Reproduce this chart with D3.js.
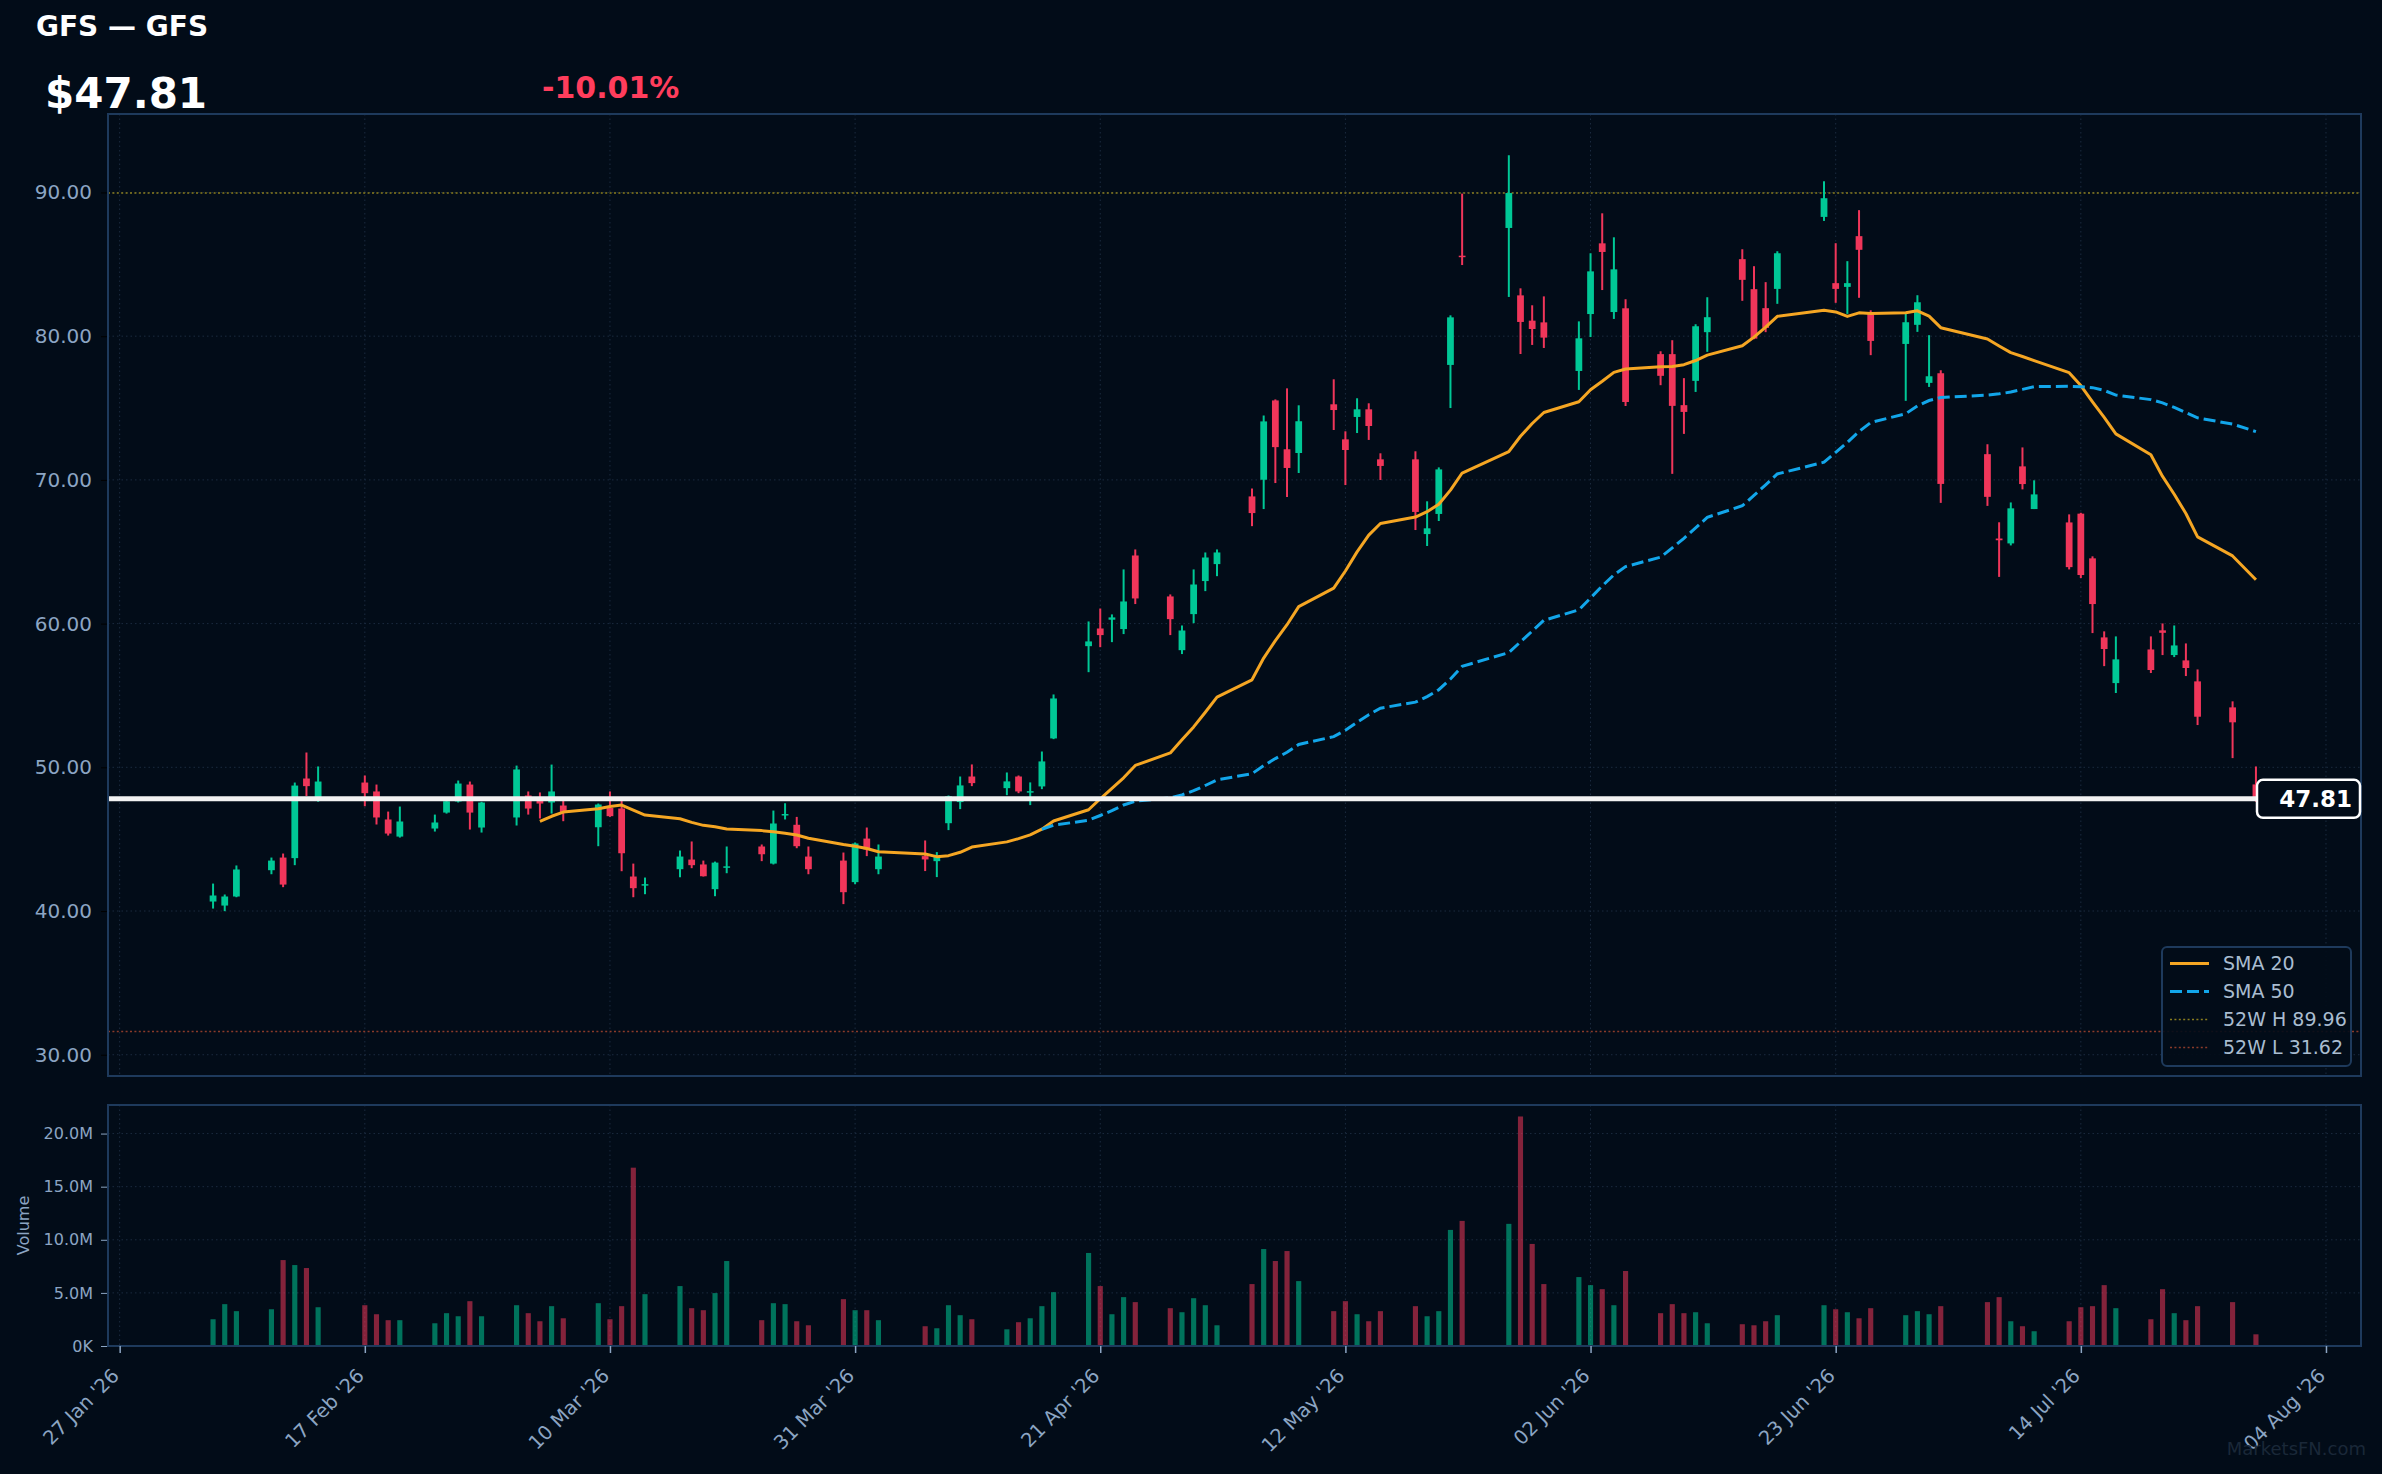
<!DOCTYPE html>
<html>
<head>
<meta charset="utf-8">
<script src="https://cdn.jsdelivr.net/npm/d3@7"></script>
<style>
  html, body { margin: 0; padding: 0; background: #020c18; }
  svg { display: block; font-family: "DejaVu Sans", sans-serif; }
</style>
</head>
<body>
<script>
// ---- data ----
const dates = [
  "2026-02-04","2026-02-05","2026-02-06","2026-02-09","2026-02-10","2026-02-11","2026-02-12","2026-02-13",
  "2026-02-17","2026-02-18","2026-02-19","2026-02-20","2026-02-23","2026-02-24","2026-02-25","2026-02-26","2026-02-27",
  "2026-03-02","2026-03-03","2026-03-04","2026-03-05","2026-03-06","2026-03-09","2026-03-10","2026-03-11","2026-03-12","2026-03-13",
  "2026-03-16","2026-03-17","2026-03-18","2026-03-19","2026-03-20","2026-03-23","2026-03-24","2026-03-25","2026-03-26","2026-03-27",
  "2026-03-30","2026-03-31",
  "2026-04-01","2026-04-02","2026-04-06","2026-04-07","2026-04-08","2026-04-09","2026-04-10","2026-04-13","2026-04-14","2026-04-15",
  "2026-04-16","2026-04-17","2026-04-20","2026-04-21","2026-04-22","2026-04-23","2026-04-24","2026-04-27","2026-04-28","2026-04-29","2026-04-30",
  "2026-05-01","2026-05-04","2026-05-05","2026-05-06","2026-05-07","2026-05-08","2026-05-11","2026-05-12","2026-05-13","2026-05-14",
  "2026-05-15","2026-05-18","2026-05-19","2026-05-20","2026-05-21","2026-05-22","2026-05-26","2026-05-27","2026-05-28","2026-05-29",
  "2026-06-01","2026-06-02","2026-06-03","2026-06-04","2026-06-05","2026-06-08","2026-06-09","2026-06-10","2026-06-11","2026-06-12",
  "2026-06-15","2026-06-16","2026-06-17","2026-06-18","2026-06-22","2026-06-23","2026-06-24","2026-06-25","2026-06-26","2026-06-29","2026-06-30",
  "2026-07-01","2026-07-02","2026-07-06","2026-07-07","2026-07-08","2026-07-09","2026-07-10","2026-07-13","2026-07-14","2026-07-15",
  "2026-07-16","2026-07-17","2026-07-20","2026-07-21","2026-07-22","2026-07-23","2026-07-24","2026-07-27","2026-07-29"
];
const opens = [
  40.66,40.38,41.01,42.84,43.72,43.68,49.22,47.90,48.94,48.32,46.37,45.18,45.74,46.85,47.62,48.80,45.81,
  46.51,48.04,47.73,47.55,47.34,45.83,47.18,47.13,42.40,41.83,42.91,43.58,43.24,41.52,43.08,44.49,43.30,46.72,46.00,43.79,43.51,42.01,
  45.04,42.91,43.82,43.47,46.11,47.58,49.36,48.55,49.36,48.32,48.67,52.01,58.43,59.66,60.27,59.62,64.74,61.89,58.15,60.66,62.96,
  64.14,68.85,70.01,75.53,72.13,71.87,75.26,72.82,74.38,74.91,71.43,71.43,66.23,67.63,78.00,85.60,87.53,82.84,81.08,80.96,
  77.58,81.54,86.46,81.68,81.94,78.75,78.75,75.20,76.89,80.28,85.36,83.27,81.95,83.29,88.30,83.69,83.43,86.96,81.62,79.46,80.79,
  76.75,77.42,71.79,65.92,65.58,70.94,67.97,67.04,67.65,64.54,59.04,55.86,58.20,59.53,57.81,57.44,55.98,54.17,48.81
];
const highs = [
  41.91,41.15,43.17,43.72,44.00,48.94,51.03,50.06,49.43,48.80,46.92,47.27,46.71,47.90,49.08,49.01,47.60,
  50.12,48.32,48.25,50.19,47.90,47.48,48.32,47.70,43.30,42.33,44.21,44.84,43.51,43.44,44.49,44.63,46.99,47.50,46.55,44.49,44.07,44.77,
  45.81,44.63,44.91,44.10,48.04,49.36,50.20,49.64,49.43,48.95,51.10,55.07,60.15,61.05,60.64,63.77,65.16,62.03,59.87,63.77,64.95,
  65.16,69.40,74.48,75.60,76.37,75.19,77.00,73.38,75.68,75.33,71.85,71.99,68.51,70.87,81.45,89.92,92.59,83.33,82.15,82.77,
  81.03,85.77,88.55,86.88,82.57,78.95,79.72,77.08,80.83,82.71,86.05,84.87,83.76,85.91,90.78,86.47,85.22,88.77,81.80,81.58,82.85,
  80.07,77.63,72.48,67.05,68.43,72.26,69.97,67.60,67.71,64.68,59.46,59.11,59.11,60.01,59.87,58.62,56.81,54.59,50.06
];
const lows = [
  40.17,39.99,40.96,42.56,41.66,43.19,48.00,47.60,47.29,46.02,45.25,45.11,45.53,46.78,47.55,45.67,45.46,
  45.95,46.71,46.44,46.78,46.25,44.51,46.55,42.77,40.96,41.17,42.35,42.98,42.40,41.03,42.63,43.47,43.24,46.37,44.37,42.56,40.48,41.87,
  43.82,42.56,42.78,42.36,45.63,47.09,48.69,48.06,48.20,47.37,48.48,51.96,56.62,58.36,58.71,59.27,61.36,59.20,57.88,60.03,62.26,
  63.30,66.78,67.97,69.78,68.81,70.48,73.47,69.64,73.26,72.78,69.99,66.51,65.40,67.14,75.00,84.95,82.73,78.76,79.39,79.18,
  76.26,79.94,83.21,81.20,75.14,76.59,70.42,73.20,76.12,78.91,82.46,79.79,80.28,82.25,88.02,82.32,81.55,82.67,78.68,75.50,80.30,
  76.47,68.40,68.19,63.25,65.44,69.34,67.97,63.77,63.17,59.34,57.04,55.17,56.56,57.81,57.67,56.35,52.94,50.64,47.60
];
const closes = [
  41.08,41.01,42.89,43.51,41.84,48.73,48.69,49.01,48.20,46.51,45.39,46.23,46.16,47.64,48.87,46.85,47.55,
  49.85,47.13,47.48,48.32,46.88,47.41,46.60,44.02,41.59,41.87,43.79,43.19,42.42,43.37,43.11,43.95,46.09,46.75,44.51,42.91,41.31,44.70,
  44.28,43.79,43.59,43.82,47.99,48.74,48.90,49.02,48.32,48.34,50.41,54.79,58.76,59.20,60.43,61.54,61.75,60.31,59.52,62.72,64.60,
  64.95,67.69,74.07,72.28,70.83,74.08,74.86,72.08,74.91,73.75,70.97,67.77,66.63,70.73,81.31,85.51,89.96,80.99,80.50,79.90,
  79.85,84.51,85.86,84.65,75.42,77.24,75.15,74.73,80.69,81.32,83.92,79.83,80.58,85.77,89.60,83.29,83.69,86.01,79.67,80.97,82.36,
  77.21,69.72,68.82,65.80,68.02,69.71,68.99,63.93,63.38,61.36,58.23,57.51,56.77,59.36,58.48,56.91,53.52,53.13,47.81
];
// volume in millions of shares
const volumes = [
  2.52,3.94,3.28,3.46,8.09,7.62,7.34,3.65,3.84,2.99,2.43,2.43,2.14,3.09,2.80,4.22,2.80,
  3.84,3.09,2.33,3.75,2.61,4.03,2.52,3.75,16.79,4.88,5.64,3.56,3.37,4.98,8.00,2.43,4.03,3.94,2.33,1.95,4.41,3.37,
  3.37,2.43,1.86,1.67,3.84,2.90,2.52,1.57,2.24,2.61,3.75,5.07,8.76,5.64,2.99,4.60,4.13,3.56,3.18,4.50,3.84,
  1.95,5.83,9.13,8.00,8.94,6.11,3.28,4.22,2.99,2.33,3.28,3.75,2.80,3.28,10.93,11.78,11.50,21.61,9.61,5.83,
  6.49,5.73,5.35,3.84,7.06,3.09,3.94,3.09,3.18,2.14,2.05,1.95,2.33,2.90,3.84,3.46,3.18,2.61,3.56,2.90,3.28,
  2.99,3.75,4.13,4.60,2.33,1.86,1.39,2.33,3.65,3.75,5.73,3.56,2.52,5.35,3.09,2.43,3.75,4.13,1.10
];
const xTickDates = ["2026-01-27","2026-02-17","2026-03-10","2026-03-31","2026-04-21","2026-05-12","2026-06-02","2026-06-23","2026-07-14","2026-08-04"];
const priceTicks = [30, 40, 50, 60, 70, 80, 90];
const volumeTicks = [0, 5, 10, 15, 20];
const high52w = 89.96;
const low52w = 31.62;
const ticker = "GFS";

// ---- layout ----
const W = 2382, H = 1474;
const left = 108, right = 2361;
const pTop = 114, pBottom = 1076;
const vTop = 1105, vBottom = 1346;
const bg = "#020c18";
const up = "#00c896", down = "#f0365a";
const gridColor = "#1b2b3f";
const frameColor = "#1e3a5c";
const labelColor = "#8ca5c3";

const parse = d3.utcParse("%Y-%m-%d");
const data = dates.map((d, i) => ({
  date: parse(d), open: opens[i], high: highs[i], low: lows[i], close: closes[i], vol: volumes[i] * 1e6
}));
const last = data[data.length - 1];
const prev = data[data.length - 2];
const pct = (last.close / prev.close - 1) * 100;

const sma = (n) => data.map((d, i) => i < n - 1 ? null : {
  date: d.date, v: d3.mean(data.slice(i - n + 1, i + 1), e => e.close)
}).filter(Boolean);
const sma20 = sma(20), sma50 = sma(50);

const x = d3.scaleUtc()
  .domain([new Date(Date.UTC(2026, 0, 26)), new Date(Date.UTC(2026, 7, 7))])
  .range([left, right]);
const y = d3.scaleLinear().domain([28.52, 95.46]).range([pBottom, pTop]);
const yv = d3.scaleLinear().domain([0, d3.max(data, d => d.vol) * 1.05]).range([vBottom, vTop]);

const dayW = x(new Date(Date.UTC(2026, 0, 28))) - x(new Date(Date.UTC(2026, 0, 27)));
const bodyW = dayW * 0.58;
const volW = dayW * 0.44;

const svg = d3.select("body").append("svg").attr("width", W).attr("height", H);
svg.append("rect").attr("width", W).attr("height", H).attr("fill", bg);

// header
svg.append("text").attr("x", 36).attr("y", 36).attr("fill", "#fff")
  .attr("font-size", 28).attr("font-weight", "bold").text(`${ticker} — ${ticker}`);
svg.append("text").attr("x", 45).attr("y", 108).attr("fill", "#fff")
  .attr("font-size", 42).attr("font-weight", "bold").text(`$${last.close.toFixed(2)}`);
svg.append("text").attr("x", 542).attr("y", 98).attr("fill", pct < 0 ? "#ff3d5c" : up)
  .attr("font-size", 30).attr("font-weight", "bold").text(`${pct.toFixed(2)}%`);

// ---- price panel ----
const clipP = svg.append("clipPath").attr("id", "clipP");
clipP.append("rect").attr("x", left).attr("y", pTop).attr("width", right - left).attr("height", pBottom - pTop);

const pg = svg.append("g");
const xTicks = xTickDates.map(parse);

pg.selectAll(".hgrid").data(priceTicks).enter().append("line")
  .attr("x1", left).attr("x2", right).attr("y1", d => y(d)).attr("y2", d => y(d))
  .attr("stroke", gridColor).attr("stroke-width", 1).attr("stroke-dasharray", "1.5,3");
pg.selectAll(".vgrid").data(xTicks).enter().append("line")
  .attr("x1", d => x(d)).attr("x2", d => x(d)).attr("y1", pTop).attr("y2", pBottom)
  .attr("stroke", gridColor).attr("stroke-width", 1).attr("stroke-dasharray", "1.5,3");

// 52 week lines
pg.append("line").attr("x1", left).attr("x2", right).attr("y1", y(high52w)).attr("y2", y(high52w))
  .attr("stroke", "#8a7d1e").attr("stroke-width", 1.5).attr("stroke-dasharray", "2,2.4");
pg.append("line").attr("x1", left).attr("x2", right).attr("y1", y(low52w)).attr("y2", y(low52w))
  .attr("stroke", "#8a3b2a").attr("stroke-width", 1.5).attr("stroke-dasharray", "2,2.4");

// candles
const candles = pg.append("g").attr("clip-path", "url(#clipP)").selectAll("g").data(data).enter().append("g");
candles.append("line")
  .attr("x1", d => x(d.date)).attr("x2", d => x(d.date))
  .attr("y1", d => y(d.high)).attr("y2", d => y(d.low))
  .attr("stroke", d => d.close >= d.open ? up : down).attr("stroke-width", 2);
candles.append("rect")
  .attr("x", d => x(d.date) - bodyW / 2).attr("width", bodyW)
  .attr("y", d => y(Math.max(d.open, d.close)))
  .attr("height", d => Math.max(1.5, Math.abs(y(d.open) - y(d.close))))
  .attr("fill", d => d.close >= d.open ? up : down);

// moving averages
const line = d3.line().x(d => x(d.date)).y(d => y(d.v));
pg.append("path").datum(sma20).attr("d", line).attr("fill", "none")
  .attr("stroke", "#f5a623").attr("stroke-width", 3).attr("stroke-linejoin", "round");
pg.append("path").datum(sma50).attr("d", line).attr("fill", "none")
  .attr("stroke", "#12a6ea").attr("stroke-width", 3).attr("stroke-dasharray", "12,5");

// last price line
pg.append("line").attr("x1", left).attr("x2", right).attr("y1", y(last.close)).attr("y2", y(last.close))
  .attr("stroke", "#f2f2f2").attr("stroke-width", 5);

// frame
pg.append("rect").attr("x", left).attr("y", pTop).attr("width", right - left).attr("height", pBottom - pTop)
  .attr("fill", "none").attr("stroke", frameColor).attr("stroke-width", 2);

// last price tag
const tag = pg.append("g");
tag.append("rect").attr("x", right - 104).attr("y", y(last.close) - 19).attr("width", 103).attr("height", 38)
  .attr("rx", 6).attr("fill", bg).attr("stroke", "#ffffff").attr("stroke-width", 2.5);
tag.append("text").attr("x", right - 9).attr("y", y(last.close)).attr("dy", "0.36em")
  .attr("text-anchor", "end").attr("fill", "#fff").attr("font-size", 23).attr("font-weight", "bold")
  .text(last.close.toFixed(2));

// price axis
const yAxis = svg.append("g").attr("transform", `translate(${left - 1},0)`)
  .call(d3.axisLeft(y).tickValues(priceTicks).tickFormat(d3.format(".2f")).tickSize(6).tickPadding(9));
yAxis.select(".domain").remove();
yAxis.selectAll("line").attr("stroke", "#000");
yAxis.selectAll("text").attr("fill", labelColor).attr("font-size", 20).attr("font-family", "DejaVu Sans");

// legend
const lg = svg.append("g");
lg.append("rect").attr("x", 2162).attr("y", 947).attr("width", 189).attr("height", 119).attr("rx", 5)
  .attr("fill", bg).attr("fill-opacity", 0.9).attr("stroke", frameColor).attr("stroke-width", 2);
const legendItems = [
  { label: "SMA 20", color: "#f5a623", width: 3, dash: null },
  { label: "SMA 50", color: "#12a6ea", width: 3, dash: "12,5" },
  { label: `52W H ${high52w.toFixed(2)}`, color: "#8a7d1e", width: 1.5, dash: "2,2.4" },
  { label: `52W L ${low52w.toFixed(2)}`, color: "#8a3b2a", width: 1.5, dash: "2,2.4" }
];
legendItems.forEach((it, i) => {
  const yy = 963.5 + i * 28;
  lg.append("line").attr("x1", 2170).attr("x2", 2209).attr("y1", yy).attr("y2", yy)
    .attr("stroke", it.color).attr("stroke-width", it.width).attr("stroke-dasharray", it.dash);
  lg.append("text").attr("x", 2223).attr("y", yy).attr("dy", "0.35em")
    .attr("fill", "#a9bcd0").attr("font-size", 19).text(it.label);
});

// ---- volume panel ----
const vg = svg.append("g");
vg.selectAll(".hgrid").data(volumeTicks.slice(1)).enter().append("line")
  .attr("x1", left).attr("x2", right).attr("y1", d => yv(d * 1e6)).attr("y2", d => yv(d * 1e6))
  .attr("stroke", gridColor).attr("stroke-width", 1).attr("stroke-dasharray", "1.5,3");
vg.selectAll(".vgrid").data(xTicks).enter().append("line")
  .attr("x1", d => x(d)).attr("x2", d => x(d)).attr("y1", vTop).attr("y2", vBottom)
  .attr("stroke", gridColor).attr("stroke-width", 1).attr("stroke-dasharray", "1.5,3");
vg.selectAll(".vol").data(data).enter().append("rect")
  .attr("x", d => x(d.date) - volW / 2).attr("width", volW)
  .attr("y", d => yv(d.vol)).attr("height", d => yv(0) - yv(d.vol))
  .attr("fill", d => d.close >= d.open ? up : down).attr("fill-opacity", 0.55);
vg.append("rect").attr("x", left).attr("y", vTop).attr("width", right - left).attr("height", vBottom - vTop)
  .attr("fill", "none").attr("stroke", frameColor).attr("stroke-width", 2);

const fmtVol = v => v >= 1e6 ? (v / 1e6).toFixed(1) + "M" : (v / 1e3).toFixed(0) + "K";
const vAxis = svg.append("g").attr("transform", `translate(${left - 1},0)`)
  .call(d3.axisLeft(yv).tickValues(volumeTicks.map(v => v * 1e6)).tickFormat(fmtVol).tickSize(6).tickPadding(8));
vAxis.select(".domain").remove();
vAxis.selectAll("line").attr("stroke", labelColor);
vAxis.selectAll("text").attr("fill", labelColor).attr("font-size", 16).attr("font-family", "DejaVu Sans");

svg.append("text").attr("transform", `translate(29,${(vTop + vBottom) / 2}) rotate(-90)`)
  .attr("text-anchor", "middle").attr("fill", labelColor).attr("font-size", 16).text("Volume");

// x axis
const xAxis = svg.append("g").attr("transform", `translate(0,${vBottom})`)
  .call(d3.axisBottom(x).tickValues(xTicks).tickFormat(d3.utcFormat("%d %b '%y")).tickSize(7));
xAxis.select(".domain").remove();
xAxis.selectAll("line").attr("stroke", labelColor).attr("stroke-width", 1.5);
xAxis.selectAll("text")
  .attr("fill", labelColor).attr("font-size", 19.5).attr("font-family", "DejaVu Sans")
  .attr("text-anchor", "end").attr("dy", null)
  .attr("transform", "translate(0,31) rotate(-45)")
  .attr("y", 0).attr("x", 0);

// watermark
svg.append("text").attr("x", 2366).attr("y", 1455).attr("text-anchor", "end")
  .attr("fill", "#1a2838").attr("font-size", 18).text("MarketsFN.com");
</script>
</body>
</html>
